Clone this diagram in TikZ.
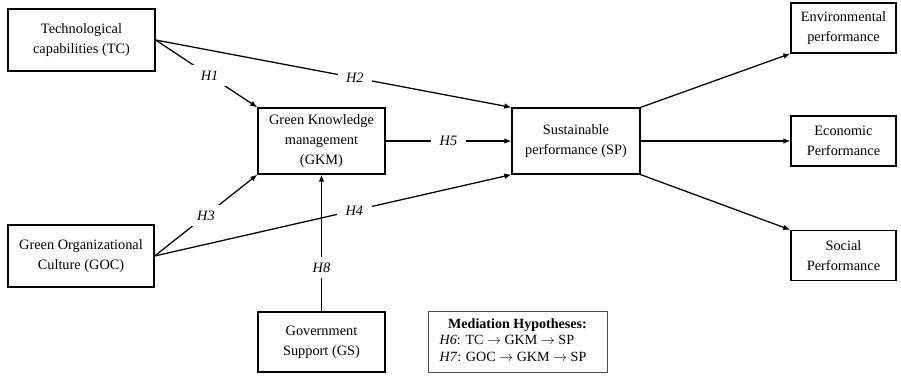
\documentclass[tikz,border=0pt]{standalone}
\usepackage{fontspec}
\setmainfont{Liberation Serif}
\usetikzlibrary{arrows.meta}

\begin{document}
\begin{tikzpicture}[x=0.025cm,y=-0.025cm,
    box/.style={draw, line width=0.9pt, align=center, inner sep=0pt,
      font=\fontsize{10.2}{14}\selectfont},
    outbox/.style={box, minimum width=2.625cm, minimum height=1.25cm},
    hyp/.style={fill=white, inner xsep=6pt, inner ysep=4pt, font=\fontsize{10.2}{14}\selectfont\itshape},
    link/.style={line width=0.9pt, -{Latex[length=5pt,width=4pt]}}]
    \useasboundingbox (0,0) rectangle (901,375);
    % constructs
    \node[box, minimum width=3.675cm, minimum height=1.55cm] (tc) at (81.5,40) {Technological\\capabilities (TC)};
    \node[box, minimum width=3.65cm, minimum height=1.55cm] (goc) at (81,256) {Green Organizational\\Culture (GOC)};
    \node[box, minimum width=3.175cm, minimum height=1.65cm] (gkm) at (321.5,141) {Green Knowledge\\management\\(GKM)};
    \node[box, minimum width=3.175cm, minimum height=1.5cm] (gs) at (321.5,342) {Government\\Support (GS)};
    \node[box, minimum width=3.2cm, minimum height=1.65cm] (sp) at (576,141) {Sustainable\\performance (SP)};
    \node[outbox] (env) at (843.5,28) {Environmental\\performance};
    \node[outbox] (eco) at (843.5,141) {Economic\\Performance};
    \node[outbox] (soc) at (843.5,255.5) {Social\\Performance};
    % mediation note
    \node[draw=black!70, line width=0.6pt, minimum width=4.475cm, minimum height=1.525cm, inner sep=0pt,
      font=\fontsize{10}{12}\selectfont] (med) at (517.5,341.5)
      {\begin{tabular}{@{}l@{}}
        \multicolumn{1}{c}{\textbf{Mediation Hypotheses:}}\\
        \textit{H6}: TC $\rightarrow$ GKM $\rightarrow$ SP\\
        \textit{H7}: GOC $\rightarrow$ GKM $\rightarrow$ SP
      \end{tabular}};
    % hypotheses
    \draw[link] (tc.east) -- node[hyp, pos=0.53] {H1} (gkm.north west);
    \draw[link] (tc.east) -- node[hyp, pos=0.56] {H2} (sp.north west);
    \draw[link] (goc.east) -- node[hyp, pos=0.5] {H3} (gkm.south west);
    \draw[link] (goc.east) -- node[hyp, pos=0.56] {H4} (sp.south west);
    \draw[link] (gkm.east) -- node[hyp, pos=0.5] {H5} (sp.west);
    \draw[link] (gs.north) -- node[hyp, pos=0.32] {H8} (gkm.south);
    % outcomes
    \draw[link] (sp.north east) -- (env.south west);
    \draw[link] (sp.east) -- (eco.west);
    \draw[link] (sp.south east) -- (soc.north west);
\end{tikzpicture}
\end{document}
